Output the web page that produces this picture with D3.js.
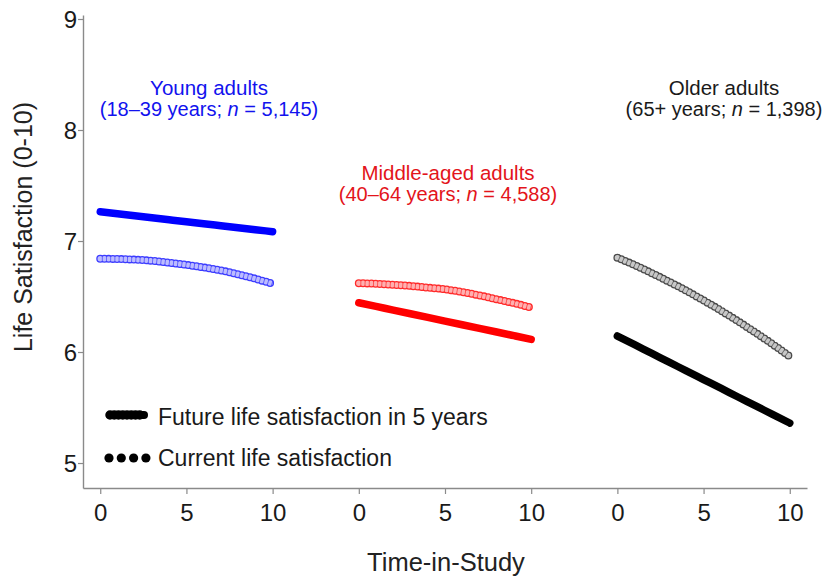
<!DOCTYPE html>
<html>
<head>
<meta charset="utf-8">
<script src="https://cdn.jsdelivr.net/npm/d3@7/dist/d3.min.js"></script>
<style>
  html, body { margin: 0; padding: 0; background: #fff; }
  svg { display: block; font-family: "Liberation Sans", Arial, Helvetica, sans-serif; }
</style>
</head>
<body>
<svg id="chart" width="825" height="580"></svg>
<script>
// ---------------- data ----------------
const times = [0, 1, 2, 3, 4, 5, 6, 7, 8, 9, 10];
const groups = ["Young adults", "Middle-aged adults", "Older adults"];
const groupAges = ["18–39 years", "40–64 years", "65+ years"];
const groupN = ["5,145", "4,588", "1,398"];

const youngCurrent  = [6.84, 6.838, 6.832, 6.822, 6.805, 6.785, 6.762, 6.735, 6.70, 6.66, 6.615];
const youngFuture   = [7.263, 7.245, 7.227, 7.209, 7.191, 7.173, 7.156, 7.138, 7.120, 7.102, 7.084];
const middleCurrent = [6.62, 6.615, 6.605, 6.595, 6.58, 6.565, 6.54, 6.51, 6.475, 6.44, 6.40];
const middleFuture  = [6.444, 6.411, 6.378, 6.345, 6.312, 6.279, 6.246, 6.213, 6.180, 6.147, 6.114];
const olderCurrent  = [6.85, 6.783, 6.71, 6.633, 6.552, 6.465, 6.374, 6.277, 6.176, 6.071, 5.96];
const olderFuture   = [6.144, 6.066, 5.987, 5.909, 5.830, 5.752, 5.674, 5.595, 5.517, 5.438, 5.36];

const yTicks = [5, 6, 7, 8, 9];
const xTickLabels = [0, 5, 10];
const legendLabels = ["Future life satisfaction in 5 years", "Current life satisfaction"];
const yTitle = "Life Satisfaction (0-10)";
const xTitle = "Time-in-Study";

// ---------------- styles / layout ----------------
const panelOffset = [0, 15, 30];
const palette = [
  { main: "#0000ff", ring: "#3c3cff", fill: "#bcbcff", text: "#1212ee" },
  { main: "#ff0000", ring: "#ff2a2a", fill: "#ffb0b0", text: "#e3141b" },
  { main: "#000000", ring: "#4a4a4a", fill: "#c8c8c8", text: "#1a1a1a" }
];
const currentSeries = [youngCurrent, middleCurrent, olderCurrent];
const futureSeries = [youngFuture, middleFuture, olderFuture];
const labelPos = [
  { x: 209, y1: 95, y2: 116 },
  { x: 448, y1: 180, y2: 201 },
  { x: 724, y1: 95, y2: 116 }
];

const svg = d3.select("#chart");
const x = d3.scaleLinear().domain([-1, 41]).range([83, 807]);
const y = d3.scaleLinear().domain([4.775, 9.036]).range([488, 15]);

const axisColor = "#8a8a8a";
const tickTextColor = "#1a1a1a";

// Y axis
const yAxis = svg.append("g").attr("transform", `translate(${x(-1)},0)`)
  .call(d3.axisLeft(y).tickValues(yTicks).tickFormat(d3.format("d")).tickSize(5).tickSizeOuter(0).tickPadding(1));
yAxis.select(".domain").attr("stroke", axisColor).attr("stroke-width", 1.4);
yAxis.selectAll(".tick line").attr("stroke", axisColor).attr("stroke-width", 1.2);
yAxis.selectAll(".tick text").attr("font-size", 24).attr("fill", tickTextColor)
  .attr("font-family", "Liberation Sans, Arial, sans-serif").attr("dy", "0.36em");

// X axis
const xTickVals = [];
panelOffset.forEach(o => xTickLabels.forEach(t => xTickVals.push(o + t)));
const xAxis = svg.append("g").attr("transform", `translate(0,${y(4.775)})`)
  .call(d3.axisBottom(x).tickValues(xTickVals)
    .tickFormat(d => String(d % 15)).tickSize(6).tickSizeOuter(0).tickPadding(10));
xAxis.select(".domain").attr("stroke", axisColor).attr("stroke-width", 1.4);
xAxis.selectAll(".tick line").attr("stroke", axisColor).attr("stroke-width", 1.2);
xAxis.selectAll(".tick text").attr("font-size", 24).attr("fill", tickTextColor)
  .attr("font-family", "Liberation Sans, Arial, sans-serif");

// Axis titles
svg.append("text")
  .attr("transform", `translate(32,227) rotate(-90)`)
  .attr("text-anchor", "middle").attr("font-size", 25).attr("fill", "#222")
  .text(yTitle);
svg.append("text")
  .attr("x", 446).attr("y", 571)
  .attr("text-anchor", "middle").attr("font-size", 25.5).attr("fill", "#222")
  .text(xTitle);

// Series
groups.forEach((g, i) => {
  const off = panelOffset[i];
  const col = palette[i];
  const line = d3.line()
    .x((d, k) => x(off + times[k]))
    .y(d => y(d))
    .curve(d3.curveMonotoneX);

  // current: chain of ring markers
  const cur = currentSeries[i];
  const gc = svg.append("g");
  gc.append("path").attr("d", line(cur)).attr("fill", "none")
    .attr("stroke", col.ring).attr("stroke-width", 8).attr("stroke-linecap", "round")
    .attr("stroke-dasharray", "0 4.2");
  gc.append("path").attr("d", line(cur)).attr("fill", "none")
    .attr("stroke", col.fill).attr("stroke-width", 5.4).attr("stroke-linecap", "round")
    .attr("stroke-dasharray", "0 4.2");
  gc.append("path").attr("d", line(cur)).attr("fill", "none")
    .attr("stroke", col.ring).attr("stroke-width", 5.4).attr("stroke-linecap", "butt")
    .attr("stroke-dasharray", "0.9 3.3").attr("stroke-dashoffset", -1.6).attr("opacity", 0.75);

  // future: dense filled markers (thick line)
  svg.append("path").attr("d", line(futureSeries[i])).attr("fill", "none")
    .attr("stroke", col.main).attr("stroke-width", 7.5).attr("stroke-linecap", "round")
    .attr("stroke-linejoin", "round");

  // group label
  const lp = labelPos[i];
  svg.append("text").attr("x", lp.x).attr("y", lp.y1).attr("text-anchor", "middle")
    .attr("font-size", 20.5).attr("fill", col.text).text(g);
  const t2 = svg.append("text").attr("x", lp.x).attr("y", lp.y2).attr("text-anchor", "middle")
    .attr("font-size", 20).attr("fill", col.text);
  t2.append("tspan").text(`(${groupAges[i]}; `);
  t2.append("tspan").attr("font-style", "italic").text("n");
  t2.append("tspan").text(` = ${groupN[i]})`);
});

// Legend
const leg = svg.append("g");
// future symbol
leg.append("path").attr("d", d3.line()([[110, 415], [144, 415]]))
  .attr("stroke", "#000").attr("stroke-width", 9.5).attr("stroke-linecap", "round")
  .attr("stroke-dasharray", "0 4.25").attr("fill", "none");
leg.append("path").attr("d", d3.line()([[110, 415], [144, 415]]))
  .attr("stroke", "#000").attr("stroke-width", 8).attr("stroke-linecap", "round").attr("fill", "none");
// current symbol
leg.selectAll("circle.cur").data([0, 1, 2, 3]).enter().append("circle")
  .attr("cx", d => 109 + d * 12.3).attr("cy", 458).attr("r", 4.6).attr("fill", "#000");
leg.selectAll("text").data(legendLabels).enter().append("text")
  .attr("x", 158).attr("y", (d, i) => 425 + i * 41)
  .attr("font-size", 23).attr("fill", "#1a1a1a").text(d => d);
</script>
</body>
</html>
